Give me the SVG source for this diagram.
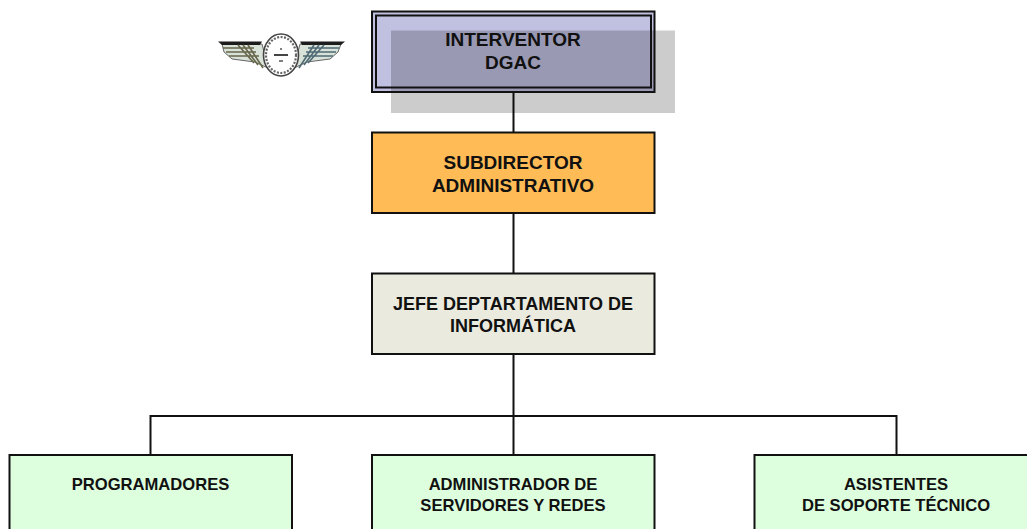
<svg xmlns="http://www.w3.org/2000/svg" width="1027" height="529" viewBox="0 0 1027 529">
<style>
.box{stroke:#111;stroke-width:2}
.t{font-family:"Liberation Sans",Arial,sans-serif;font-weight:700;fill:#111;text-anchor:middle}
.t19{font-size:19px}.t18{font-size:18px}.t166{font-size:16.600px}
.c{fill:none;stroke:#111;stroke-width:2}
</style>
<rect width="1027" height="529" fill="#fff"/>
<g id="connectors">
<path class="c" d="M513.500 92V132M513.500 213V273M513.500 354V455M150.500 455V416H896.500V455"/>
</g>
<g id="logo">
<path d="M222 44H262L268 68L255 62L232 59L224 52Z" fill="#d8e2d8" stroke="#666" stroke-width="1"/>
<path d="M341 44H300L294 68L307 62L330 59L338 52Z" fill="#d8e2d8" stroke="#666" stroke-width="1"/>
<path d="M218 41.500H262L260 45H222Z" fill="#1c1c1c"/>
<path d="M345 41.500H300L302 45H341Z" fill="#1c1c1c"/>
<path d="M223 48H254M226 52H256M229 56H259M248 45L263 68M238 45L254 63M243 45L258 65" stroke="#66664a" stroke-width="1.600" fill="none"/>
<path d="M339 48H308M336 52H306M333 56H303M314 45L299 68M324 45L308 63M319 45L304 65" stroke="#4f6a75" stroke-width="1.600" fill="none"/>
<ellipse cx="281" cy="55" rx="17.500" ry="21" fill="#fff" stroke="#444" stroke-width="1.600"/>
<ellipse cx="281" cy="55" rx="15" ry="18" fill="none" stroke="#666" stroke-width="2.200" stroke-dasharray="2 1.500"/>
<path d="M274 55H288" stroke="#444" stroke-width="2"/>
<path d="M281 48V50M279 61H283" stroke="#555" stroke-width="1.500"/>
</g>
<g id="interventor">
<rect x="372" y="11.500" width="282.500" height="80.500" fill="#c0c0e0"/>
<rect id="shadow" x="391" y="30.500" width="284" height="82.500" fill="#000" fill-opacity=".2"/>
<rect class="box" x="372" y="11.500" width="282.500" height="80.500" fill="none"/>
<rect class="box" x="376" y="15.500" width="275" height="72" fill="none"/>
<text class="t t19" x="513" y="46">INTERVENTOR</text>
<text class="t t19" x="513" y="69">DGAC</text>
</g>
<g id="subdirector">
<rect class="box" x="372" y="132.500" width="282.500" height="80.500" fill="#ffbb55"/>
<text class="t t19" x="513" y="169">SUBDIRECTOR</text>
<text class="t t19" x="513" y="192">ADMINISTRATIVO</text>
</g>
<g id="jefe">
<rect class="box" x="372" y="273.500" width="282.500" height="80.500" fill="#eaeadf"/>
<text class="t t18" x="513" y="310">JEFE DEPTARTAMENTO DE</text>
<text class="t t18" x="513" y="332">INFORMÁTICA</text>
</g>
<g id="programadores">
<rect class="box" x="9.500" y="455" width="282.500" height="80" fill="#deffde"/>
<text class="t t166" x="150.500" y="490">PROGRAMADORES</text>
</g>
<g id="administrador">
<rect class="box" x="372" y="455" width="282.500" height="80" fill="#deffde"/>
<text class="t t166" x="513" y="490">ADMINISTRADOR DE</text>
<text class="t t166" x="513" y="511">SERVIDORES Y REDES</text>
</g>
<g id="asistentes">
<rect class="box" x="754.500" y="455" width="282.500" height="80" fill="#deffde"/>
<text class="t t166" x="896" y="490">ASISTENTES</text>
<text class="t t166" x="896" y="511">DE SOPORTE TÉCNICO</text>
</g>
</svg>
